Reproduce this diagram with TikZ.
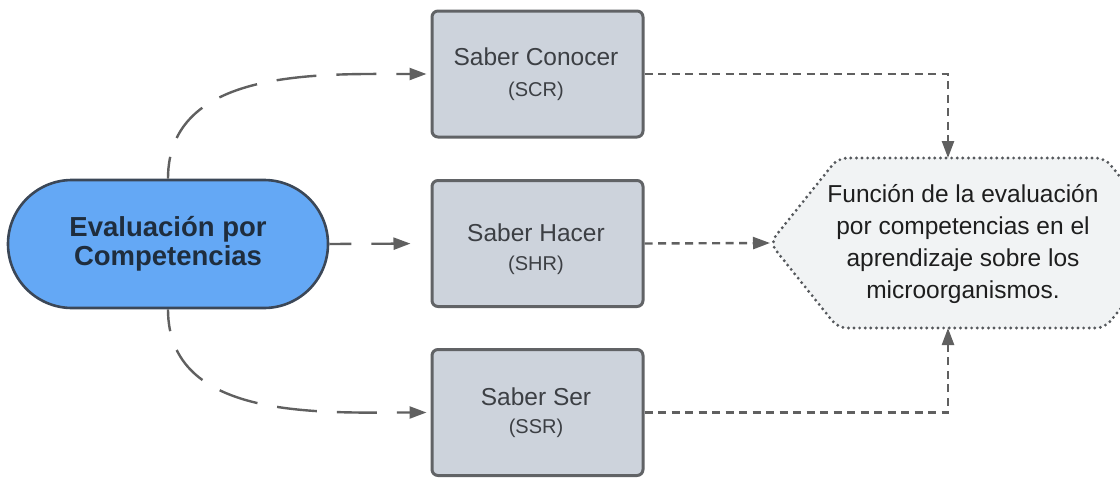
\documentclass[tikz,border=0pt]{standalone}
\usepackage{fontspec}
\setmainfont{Liberation Sans}
\usetikzlibrary{arrows.meta}

\definecolor{stadfill}{HTML}{64A8F5}
\definecolor{stadline}{HTML}{3B4757}
\definecolor{stadtext}{HTML}{1F2D3D}
\definecolor{boxfill}{HTML}{CDD3DC}
\definecolor{boxline}{HTML}{616366}
\definecolor{boxtext}{HTML}{3C3F44}
\definecolor{hexfill}{HTML}{F1F3F4}
\definecolor{hexline}{HTML}{55585C}
\definecolor{hextext}{HTML}{1E1E1E}
\definecolor{conn}{HTML}{606060}

\tikzset{
  stadium/.style={draw=stadline, fill=stadfill, line width=2.6pt,
    rounded corners=64pt, minimum width=320pt, minimum height=128pt,
    inner sep=0pt, align=center, text=stadtext,
    font=\fontsize{27.5}{29}\selectfont\bfseries},
  stepbox/.style={draw=boxline, fill=boxfill, line width=3pt,
    rounded corners=6pt, minimum width=211pt, minimum height=126pt,
    inner sep=0pt},
  boxtitle/.style={text=boxtext, inner sep=0pt,
    font=\fontsize{24.5}{28}\selectfont},
  boxsub/.style={text=boxtext, inner sep=0pt,
    font=\fontsize{20}{24}\selectfont},
  hexshape/.style={draw=hexline, fill=hexfill, line width=3.2pt,
    line cap=round, dash pattern=on 0pt off 5.6pt, rounded corners=9pt},
  hexlabel/.style={text=hextext, align=center, inner sep=0pt,
    font=\fontsize{24.5}{32}\selectfont},
  longdash/.style={draw=conn, line width=2.4pt,
    dash pattern=on 40pt off 20pt, dash phase=18pt,
    -{Triangle[length=17pt,width=12pt]}},
  shortdash/.style={draw=conn, line width=2.4pt,
    dash pattern=on 8pt off 5.5pt,
    -{Triangle[length=17pt,width=12pt]}},
}

\begin{document}
\begin{tikzpicture}[x=1pt,y=-1pt]
\useasboundingbox (0,0) rectangle (1120,477);
\clip (0,0) rectangle (1120,477);

% starting node
\node[stadium] (evc) at (168,244) {Evaluación por\\Competencias};

% the three knowledge boxes
\node[stepbox] (con) at (537.5,74) {};
\node[boxtitle] (conT) at (536,57) {Saber Conocer};
\node[boxsub] (conS) at (536,91) {(SCR)};

\node[stepbox] (hac) at (537.5,243.5) {};
\node[boxtitle] (hacT) at (536,233) {Saber Hacer};
\node[boxsub] (hacS) at (536,265) {(SHR)};

\node[stepbox] (ser) at (537.5,412.5) {};
\node[boxtitle] (serT) at (536,397) {Saber Ser};
\node[boxsub] (serS) at (536,428) {(SSR)};

% hexagonal result shape
\path[hexshape] (971,158) -- (1105,158) -- (1173,243) -- (1105,328)
  -- (838,328) -- (770,243) -- (838,158) -- cycle;
\node[hexlabel] (func) at (963,244)
  {Función de la evaluación\\por competencias en el\\aprendizaje sobre los\\microorganismos.};
\coordinate (hexW) at (770,243);
\coordinate (hexN) at (948,158);
\coordinate (hexS) at (948,328);

% connectors from the starting node
\draw[longdash, shorten >=4pt] (evc.north)
  .. controls +(0,-111) and +(-111,0) .. (con.west);
\draw[longdash, shorten >=20pt] (evc.east) -- (hac.west);
\draw[longdash, shorten >=4pt] (evc.south)
  .. controls +(0,111) and +(-111,0) .. (ser.west);

% connectors into the result shape
\draw[shortdash] (con.east) -| (hexN);
\draw[shortdash] (hac.east) -- (hexW);
\draw[shortdash] (ser.east) -| (hexS);
\end{tikzpicture}
\end{document}
